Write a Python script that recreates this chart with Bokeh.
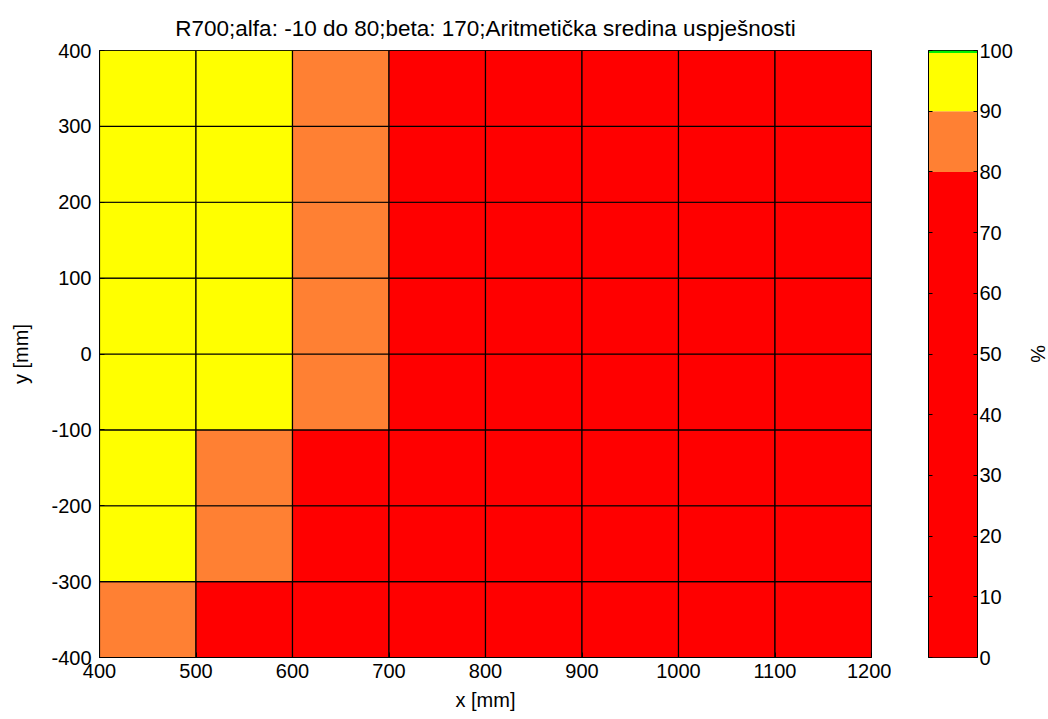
from bokeh.plotting import figure
from bokeh.models import Range1d, FixedTicker, LinearColorMapper, LinearAxis, ColumnDataSource
from bokeh.layouts import row
from bokeh.embed import file_html
from bokeh.resources import INLINE

# ---- data ----
x_centers = [450, 550, 650, 750, 850, 950, 1050, 1150]
y_centers = [-350, -250, -150, -50, 50, 150, 250, 350]
# rows listed bottom (y=-350) to top (y=350)
values = [
    [86, 74, 63, 55, 49, 44, 40, 36],
    [93, 85, 76, 66, 58, 51, 46, 41],
    [95, 88, 78, 69, 61, 54, 48, 43],
    [97, 94, 86, 75, 66, 58, 51, 45],
    [98, 95, 87, 77, 67, 59, 52, 46],
    [97, 95, 87, 76, 66, 58, 51, 45],
    [96, 94, 86, 74, 64, 56, 50, 44],
    [95, 93, 84, 72, 62, 55, 48, 42],
]
x_ticks = [400, 500, 600, 700, 800, 900, 1000, 1100, 1200]
y_ticks = [-400, -300, -200, -100, 0, 100, 200, 300, 400]
y_tick_labels = ["-400", "-300", "-200", "-100", "0", "100", "200", "300", "400"]
cb_ticks = [0, 10, 20, 30, 40, 50, 60, 70, 80, 90, 100]
band_edges = [0, 80, 90, 99.6, 100]
band_colors = ["#FF0000", "#FF8033", "#FFFF00", "#00EE00"]
title_text = "R700;alfa: -10 do 80;beta: 170;Aritmetička sredina uspješnosti"

FONT = "Liberation Sans"
FS = "20px"
TFS = "22.5px"

# palette over 0..100 in 0.4 steps built from bands
n = 250
palette = []
for i in range(n):
    v = (i + 0.5) * 100.0 / n
    for k in range(len(band_colors)):
        if band_edges[k] <= v < band_edges[k + 1] or (k == len(band_colors) - 1 and v >= band_edges[k]):
            palette.append(band_colors[k])
            break
mapper = LinearColorMapper(palette=palette, low=0, high=100)

xs, ys, vs = [], [], []
for j, yc in enumerate(y_centers):
    for i, xc in enumerate(x_centers):
        xs.append(xc)
        ys.append(yc)
        vs.append(values[j][i])
src = ColumnDataSource(dict(x=xs, y=ys, v=vs))

p = figure(frame_width=772, frame_height=607, output_backend="svg", toolbar_location=None,
           x_range=Range1d(400, 1200), y_range=Range1d(-400, 400),
           min_border_left=99, min_border_right=20, min_border_top=50, min_border_bottom=60,
           title=title_text)
p.rect(x="x", y="y", width=100, height=100, source=src,
       fill_color={"field": "v", "transform": mapper}, line_color="black", line_width=1.2)
p.title.align = "center"
p.title.text_font = FONT
p.title.text_font_size = TFS
p.title.text_font_style = "normal"
p.title.text_color = "black"
p.title.standoff = 19
p.xgrid.visible = False
p.ygrid.visible = False
p.outline_line_color = "black"
p.xaxis.ticker = FixedTicker(ticks=x_ticks)
p.yaxis.ticker = FixedTicker(ticks=y_ticks)
p.yaxis.major_label_overrides = {t: s for t, s in zip(y_ticks, y_tick_labels)}
p.xaxis.axis_label = "x [mm]"
p.yaxis.axis_label = "y [mm]"
for ax in (p.xaxis[0], p.yaxis[0]):
    ax.major_label_text_font = FONT
    ax.major_label_text_font_size = FS
    ax.major_label_text_color = "black"
    ax.axis_label_text_font = FONT
    ax.axis_label_text_font_size = FS
    ax.axis_label_text_font_style = "normal"
    ax.axis_label_text_color = "black"
    ax.major_tick_in = 5
    ax.major_tick_out = 0
    ax.minor_tick_line_color = None
    ax.axis_line_color = "black"
    ax.major_tick_line_color = "black"
p.xaxis.major_label_standoff = 6
p.xaxis.axis_label_standoff = 8
p.yaxis.major_label_standoff = 8
p.yaxis.axis_label_standoff = 16

# ---- colorbar figure ----
cb_src = ColumnDataSource(dict(bottom=band_edges[:-1], top=band_edges[1:], color=band_colors))
cb = figure(frame_width=49, frame_height=607, output_backend="svg", toolbar_location=None,
            x_range=Range1d(0, 1), y_range=Range1d(0, 100),
            min_border_left=37, min_border_right=63, min_border_top=50, min_border_bottom=60,
            y_axis_location="right")
cb.quad(left=0, right=1, bottom="bottom", top="top", fill_color="color", line_color=None, source=cb_src)
cb.xaxis.visible = False
cb.xgrid.visible = False
cb.ygrid.visible = False
cb.outline_line_color = "black"
ax = cb.yaxis[0]
ax.ticker = FixedTicker(ticks=cb_ticks)
ax.axis_label = "%"
ax.major_label_text_font = FONT
ax.major_label_text_font_size = FS
ax.major_label_text_color = "black"
ax.axis_label_text_font = FONT
ax.axis_label_text_font_size = FS
ax.axis_label_text_font_style = "normal"
ax.axis_label_text_color = "black"
ax.major_tick_in = 4
ax.major_tick_out = 0
ax.minor_tick_line_color = None
ax.major_label_standoff = 2
ax.axis_label_standoff = 11
left_ax = LinearAxis(ticker=FixedTicker(ticks=cb_ticks), major_label_text_font_size="0px",
                     major_tick_in=4, major_tick_out=0, minor_tick_line_color=None,
                     major_label_standoff=0)
cb.add_layout(left_ax, "left")

layout = row(p, cb)
open("out.html", "w").write(file_html(layout, INLINE))
